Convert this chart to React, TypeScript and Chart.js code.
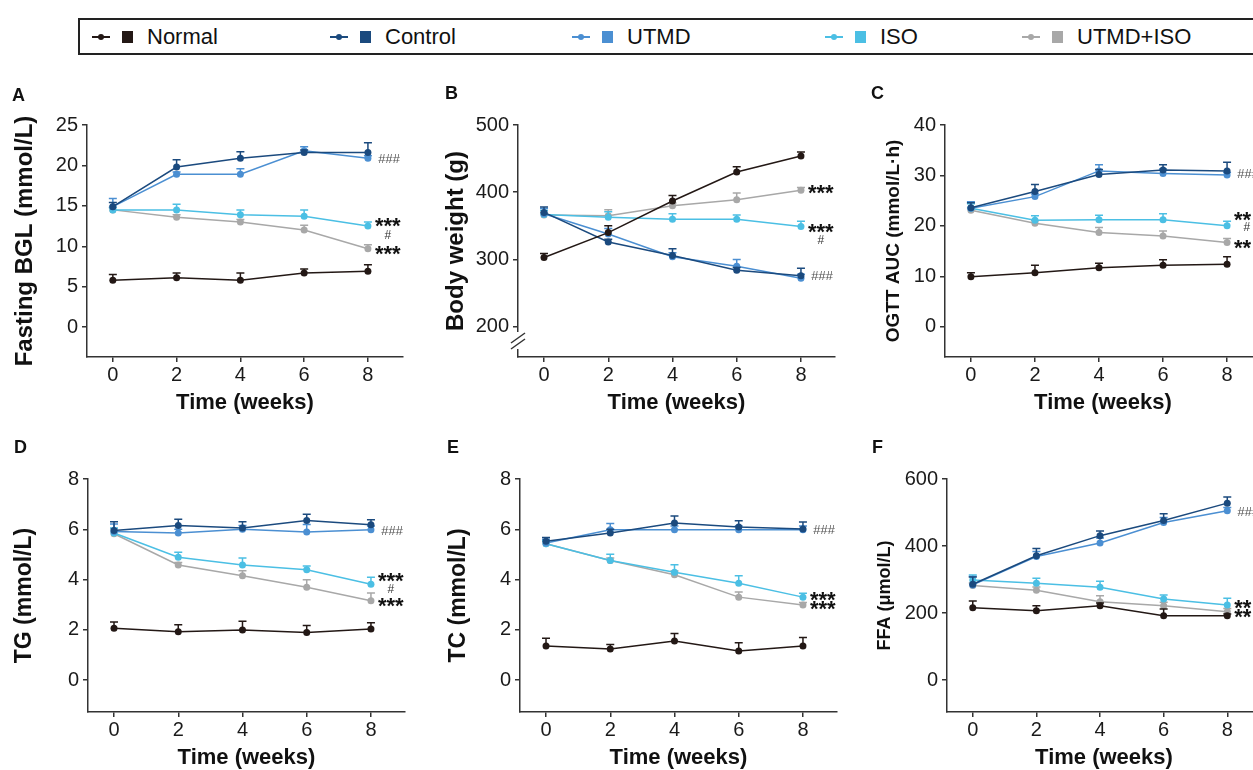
import React, { useEffect, useRef } from 'react';
import { Chart, registerables } from 'chart.js';

Chart.register(...registerables);

const FONT = '"Liberation Sans", Arial, Helvetica, sans-serif';

// ---------- data ----------
const groups = ['Normal', 'Control', 'UTMD', 'ISO', 'UTMD+ISO'];
const groupColors = ['#231815', '#1b4a7e', '#4b8fd2', '#4bbfe4', '#a8a8a8'];
const weeks = [0, 2, 4, 6, 8];
const weekTicks = [0, 2, 4, 6, 8];

// A: Fasting BGL (mmol/L)
const bglTicks = [0, 5, 10, 15, 20, 25];
const bglMean = [
  [5.8, 6.1, 5.8, 6.7, 6.9],
  [14.9, 19.8, 20.9, 21.6, 21.6],
  [14.9, 18.9, 18.9, 21.8, 20.9],
  [14.5, 14.5, 13.9, 13.7, 12.5],
  [14.5, 13.6, 13.0, 12.0, 9.7],
];
const bglErr = [
  [0.7, 0.6, 0.9, 0.5, 0.8],
  [0.5, 0.9, 0.8, 0.3, 1.2],
  [1.0, 0.3, 0.7, 0.5, 0.3],
  [0.3, 0.7, 0.6, 0.8, 0.5],
  [0.3, 0.3, 0.3, 0.6, 0.5],
];
const bglMarks = [
  { text: '###', y: 20.8 },
  { text: '***', y: 12.9 },
  { text: '#', y: 11.5 },
  { text: '***', y: 9.5 },
];

// B: Body weight (g)
const bwTicks = [200, 300, 400, 500];
const bwMean = [
  [303, 340, 387, 430, 454],
  [370, 326, 306, 284, 276],
  [368, 338, 304, 290, 272],
  [367, 363, 360, 360, 349],
  [366, 365, 380, 389, 403],
];
const bwErr = [
  [6, 10, 8, 8, 6],
  [8, 4, 10, 4, 11],
  [8, 8, 6, 10, 6],
  [6, 8, 8, 6, 8],
  [4, 9, 4, 10, 4],
];
const bwMarks = [
  { text: '***', y: 403.5 },
  { text: '***', y: 345.5 },
  { text: '#', y: 329 },
  { text: '###', y: 275.7 },
];

// C: OGTT AUC (mmol/L·h)
const ogttTicks = [0, 10, 20, 30, 40];
const ogttMean = [
  [9.9, 10.7, 11.7, 12.2, 12.4],
  [23.6, 26.8, 30.2, 31.1, 30.9],
  [23.5, 25.8, 30.9, 30.4, 30.1],
  [23.5, 21.1, 21.2, 21.2, 20.0],
  [23.1, 20.5, 18.7, 18.0, 16.7],
];
const ogttErr = [
  [0.8, 1.5, 0.9, 1.1, 1.5],
  [1.0, 1.4, 1.0, 1.0, 1.7],
  [1.3, 0.5, 1.2, 0.9, 0.5],
  [0.9, 0.9, 0.9, 1.2, 0.9],
  [0.5, 0.5, 1.0, 1.0, 0.8],
];
const ogttMarks = [
  { text: '###', y: 30.3 },
  { text: '**', y: 21.8 },
  { text: '#', y: 19.8 },
  { text: '**', y: 16.4 },
];

// D: TG (mmol/L)
const tgTicks = [0, 2, 4, 6, 8];
const tgMean = [
  [2.06, 1.92, 1.99, 1.89, 2.03],
  [5.95, 6.15, 6.05, 6.35, 6.18],
  [5.91, 5.85, 6.0, 5.89, 5.98],
  [5.85, 4.89, 4.58, 4.39, 3.81],
  [5.82, 4.58, 4.15, 3.69, 3.16],
];
const tgErr = [
  [0.25, 0.28, 0.35, 0.28, 0.25],
  [0.35, 0.25, 0.25, 0.25, 0.2],
  [0.3, 0.15, 0.15, 0.3, 0.15],
  [0.2, 0.2, 0.28, 0.15, 0.28],
  [0.2, 0.1, 0.2, 0.3, 0.3],
];
const tgMarks = [
  { text: '###', y: 5.97 },
  { text: '***', y: 4.07 },
  { text: '#', y: 3.65 },
  { text: '***', y: 3.08 },
];

// E: TC (mmol/L)
const tcTicks = [0, 2, 4, 6, 8];
const tcMean = [
  [1.36, 1.24, 1.55, 1.16, 1.36],
  [5.52, 5.85, 6.25, 6.09, 6.01],
  [5.45, 5.98, 5.98, 5.98, 5.98],
  [5.42, 4.76, 4.29, 3.85, 3.3],
  [5.42, 4.76, 4.19, 3.3, 2.99],
];
const tcErr = [
  [0.3, 0.18, 0.3, 0.33, 0.33],
  [0.15, 0.15, 0.28, 0.25, 0.28],
  [0.15, 0.25, 0.15, 0.15, 0.15],
  [0.12, 0.25, 0.3, 0.3, 0.15],
  [0.1, 0.1, 0.15, 0.2, 0.1],
];
const tcMarks = [
  { text: '###', y: 6.0 },
  { text: '***', y: 3.32 },
  { text: '***', y: 2.96 },
];

// F: FFA (μmol/L)
const ffaTicks = [0, 200, 400, 600];
const ffaMean = [
  [216, 207, 222, 192, 192],
  [286, 371, 431, 476, 528],
  [284, 369, 409, 470, 505],
  [299, 289, 277, 242, 224],
  [282, 268, 234, 222, 204],
];
const ffaErr = [
  [20, 15, 8, 20, 5],
  [22, 22, 14, 20, 18],
  [25, 15, 15, 15, 10],
  [15, 15, 18, 12, 20],
  [8, 10, 18, 10, 10],
];
const ffaMarks = [
  { text: '###', y: 502 },
  { text: '**', y: 226 },
  { text: '**', y: 199 },
];

// ---------- plugins ----------
const errorBarPlugin = {
  id: 'errbars',
  afterDatasetDraw(chart: any, args: any) {
    const ds: any = chart.data.datasets[args.index];
    const errs: number[] = ds.errors;
    if (!errs) return;
    const ys = chart.scales.y;
    const ctx = chart.ctx;
    ctx.save();
    ctx.strokeStyle = ds.borderColor;
    ctx.lineWidth = 1.5;
    args.meta.data.forEach((pt: any, j: number) => {
      const v = ds.data[j].y;
      const top = ys.getPixelForValue(v + errs[j]);
      ctx.beginPath();
      ctx.moveTo(pt.x, pt.y);
      ctx.lineTo(pt.x, top);
      ctx.moveTo(pt.x - 4, top);
      ctx.lineTo(pt.x + 4, top);
      ctx.stroke();
    });
    ctx.restore();
  },
};

const sigPlugin = {
  id: 'sigmarks',
  afterDraw(chart: any, _args: any, opts: any) {
    const marks = (opts && opts.marks) || [];
    const xs = chart.scales.x;
    const ys = chart.scales.y;
    const ctx = chart.ctx;
    const px = xs.getPixelForValue(8);
    ctx.save();
    const starFont = `bold 22px ${FONT}`;
    ctx.font = starFont;
    const starW = ctx.measureText('***').width;
    for (const m of marks) {
      const y = ys.getPixelForValue(m.y);
      let x: number;
      let color: string;
      if (m.text.includes('*')) {
        ctx.font = starFont;
        ctx.textAlign = 'left';
        x = px + 7;
        color = '#111';
      } else if (m.text.length > 1) {
        ctx.font = `italic 13px ${FONT}`;
        ctx.textAlign = 'left';
        x = px + 10;
        color = '#555';
      } else {
        ctx.font = `12px ${FONT}`;
        ctx.textAlign = 'center';
        x = px + 7 + starW / 2;
        color = '#333';
      }
      ctx.fillStyle = color;
      ctx.textBaseline = 'alphabetic';
      const mt = ctx.measureText(m.text);
      const off = (mt.actualBoundingBoxAscent - mt.actualBoundingBoxDescent) / 2;
      ctx.fillText(m.text, x, y + off);
    }
    ctx.restore();
  },
};

const breakPlugin = {
  id: 'axisbreak',
  afterDraw(chart: any) {
    const ctx = chart.ctx;
    const { left, bottom } = chart.chartArea;
    ctx.save();
    ctx.fillStyle = '#ffffff';
    ctx.fillRect(left - 3, bottom - 25, 6, 17);
    ctx.strokeStyle = '#333';
    ctx.lineWidth = 1.5;
    for (const yc of [bottom - 19, bottom - 13]) {
      ctx.beginPath();
      ctx.moveTo(left - 7, yc + 5);
      ctx.lineTo(left + 7, yc - 5);
      ctx.stroke();
    }
    ctx.restore();
  },
};

// ---------- panels ----------
type Mark = { text: string; y: number };
type PanelSpec = {
  letter: string;
  left: number;
  top: number;
  width: number;
  height: number;
  yAxisWidth: number;
  padTop: number;
  padRight: number;
  yMin: number;
  yMax: number;
  yTicks: number[];
  xMin: number;
  xMax: number;
  yTitle: string;
  yTitleSize: number;
  yTitlePad: number;
  means: number[][];
  errs: number[][];
  marks: Mark[];
  broken?: boolean;
};

const panels: PanelSpec[] = [
  {
    letter: 'A', left: 0, top: 80, width: 420, height: 340, yAxisWidth: 87, padTop: 45, padRight: 17,
    yMin: -3.7, yMax: 25, yTicks: bglTicks, xMin: -0.81, xMax: 9.1,
    yTitle: 'Fasting BGL (mmol/L)', yTitleSize: 24, yTitlePad: 10.6,
    means: bglMean, errs: bglErr, marks: bglMarks,
  },
  {
    letter: 'B', left: 420, top: 80, width: 425, height: 340, yAxisWidth: 98, padTop: 45, padRight: 10,
    yMin: 155, yMax: 500, yTicks: bwTicks, xMin: -0.81, xMax: 9.06,
    yTitle: 'Body weight (g)', yTitleSize: 24, yTitlePad: 21.6,
    means: bwMean, errs: bwErr, marks: bwMarks, broken: true,
  },
  {
    letter: 'C', left: 840, top: 80, width: 425, height: 340, yAxisWidth: 105, padTop: 45, padRight: 4,
    yMin: -6, yMax: 40, yTicks: ogttTicks, xMin: -0.81, xMax: 9.06,
    yTitle: 'OGTT AUC (mmol/L·h)', yTitleSize: 19, yTitlePad: 42.6,
    means: ogttMean, errs: ogttErr, marks: ogttMarks,
  },
  {
    letter: 'D', left: 0, top: 435, width: 420, height: 340, yAxisWidth: 88, padTop: 44, padRight: 15,
    yMin: -1.27, yMax: 8, yTicks: tgTicks, xMin: -0.81, xMax: 9.06,
    yTitle: 'TG (mmol/L)', yTitleSize: 23, yTitlePad: 11.2,
    means: tgMean, errs: tgErr, marks: tgMarks,
  },
  {
    letter: 'E', left: 420, top: 435, width: 425, height: 340, yAxisWidth: 100, padTop: 44, padRight: 8,
    yMin: -1.27, yMax: 8, yTicks: tcTicks, xMin: -0.81, xMax: 9.06,
    yTitle: 'TC (mmol/L)', yTitleSize: 23, yTitlePad: 25.2,
    means: tcMean, errs: tcErr, marks: tcMarks,
  },
  {
    letter: 'F', left: 840, top: 435, width: 425, height: 340, yAxisWidth: 107, padTop: 44, padRight: 2,
    yMin: -95, yMax: 600, yTicks: ffaTicks, xMin: -0.81, xMax: 9.06,
    yTitle: 'FFA (μmol/L)', yTitleSize: 18, yTitlePad: 34.2,
    means: ffaMean, errs: ffaErr, marks: ffaMarks,
  },
];

const letterPos: Record<string, [number, number]> = {
  A: [12, 85.5], B: [445, 83.5], C: [871, 83.5],
  D: [14, 437.5], E: [447, 437.5], F: [872, 437.5],
};

const AXIS = '#333';

function buildConfig(p: PanelSpec): any {
  return {
    type: 'line',
    data: {
      datasets: groups.map((g, i) => ({
        label: g,
        data: weeks.map((w, j) => ({ x: w, y: p.means[i][j] })),
        errors: p.errs[i],
        borderColor: groupColors[i],
        backgroundColor: groupColors[i],
        pointBackgroundColor: groupColors[i],
        pointBorderColor: groupColors[i],
        pointRadius: 3.5,
        pointBorderWidth: 0,
        borderWidth: 1.5,
        tension: 0,
        fill: false,
      })),
    },
    options: {
      animation: false,
      responsive: false,
      maintainAspectRatio: false,
      events: [],
      layout: { padding: { top: p.padTop, right: p.padRight, left: 0, bottom: 0 } },
      plugins: {
        legend: { display: false },
        tooltip: { enabled: false },
        title: { display: false },
        sigmarks: { marks: p.marks },
      },
      scales: {
        x: {
          type: 'linear',
          min: p.xMin,
          max: p.xMax,
          afterBuildTicks: (s: any) => {
            s.ticks = weekTicks.map((v) => ({ value: v }));
          },
          afterFit: (s: any) => {
            s.height = 63;
          },
          grid: { display: true, drawOnChartArea: false, drawTicks: true, tickLength: 5, color: AXIS, lineWidth: 1.5 },
          border: { display: true, color: AXIS, width: 1.5 },
          ticks: { font: { family: FONT, size: 20 }, color: '#1a1a1a', padding: 1, maxRotation: 0, autoSkip: false },
          title: {
            display: true,
            text: 'Time (weeks)',
            font: { family: FONT, size: 22, weight: 'bold' },
            color: '#111',
            padding: { top: 0, bottom: 4 },
          },
        },
        y: {
          type: 'linear',
          min: p.yMin,
          max: p.yMax,
          afterBuildTicks: (s: any) => {
            s.ticks = p.yTicks.map((v) => ({ value: v }));
          },
          afterFit: (s: any) => {
            s.width = p.yAxisWidth;
          },
          grid: { display: true, drawOnChartArea: false, drawTicks: true, tickLength: 5, color: AXIS, lineWidth: 1.5 },
          border: { display: true, color: AXIS, width: 1.5 },
          ticks: { font: { family: FONT, size: 20 }, color: '#1a1a1a', padding: 4, autoSkip: false },
          title: {
            display: true,
            text: p.yTitle,
            font: { family: FONT, size: p.yTitleSize, weight: 'bold' },
            color: '#111',
            padding: { top: p.yTitlePad, bottom: 0 },
          },
        },
      },
    },
    plugins: p.broken ? [errorBarPlugin, sigPlugin, breakPlugin] : [errorBarPlugin, sigPlugin],
  };
}

function Panel({ spec }: { spec: PanelSpec }) {
  const ref = useRef<HTMLCanvasElement>(null);
  useEffect(() => {
    const chart = new Chart(ref.current as HTMLCanvasElement, buildConfig(spec));
    return () => chart.destroy();
  }, [spec]);
  const [lx, ly] = letterPos[spec.letter];
  return (
    <>
      <div style={{ position: 'absolute', left: spec.left, top: spec.top, width: spec.width, height: spec.height }}>
        <canvas ref={ref} width={spec.width} height={spec.height} style={{ display: 'block' }} />
      </div>
      <div
        style={{
          position: 'absolute', left: lx, top: ly, fontFamily: FONT, fontWeight: 'bold',
          fontSize: 18, lineHeight: '18px', color: '#111',
        }}
      >
        {spec.letter}
      </div>
    </>
  );
}

const legendStarts = [92, 330, 572, 825, 1022];

function Legend() {
  return (
    <div
      style={{
        position: 'absolute', left: 78, top: 18, width: 1200, height: 33,
        border: '2px solid #222', boxSizing: 'content-box',
      }}
    >
      {groups.map((g, i) => {
        const x0 = legendStarts[i] - 80;
        return (
          <React.Fragment key={g}>
            <div style={{ position: 'absolute', left: x0, top: 15.5, width: 18, height: 2, background: groupColors[i] }} />
            <div
              style={{
                position: 'absolute', left: x0 + 6, top: 13.5, width: 6, height: 6,
                borderRadius: 3, background: groupColors[i],
              }}
            />
            <div style={{ position: 'absolute', left: x0 + 30, top: 10.5, width: 11, height: 12, background: groupColors[i] }} />
            <div
              style={{
                position: 'absolute', left: x0 + 55, top: 2, fontFamily: FONT, fontSize: 22,
                lineHeight: '29px', color: '#111', whiteSpace: 'nowrap',
              }}
            >
              {g}
            </div>
          </React.Fragment>
        );
      })}
    </div>
  );
}

export default function App() {
  return (
    <div
      style={{
        position: 'absolute', left: 0, top: 0, width: 1253, height: 770,
        overflow: 'hidden', background: '#ffffff',
      }}
    >
      <Legend />
      {panels.map((p) => (
        <Panel key={p.letter} spec={p} />
      ))}
    </div>
  );
}
